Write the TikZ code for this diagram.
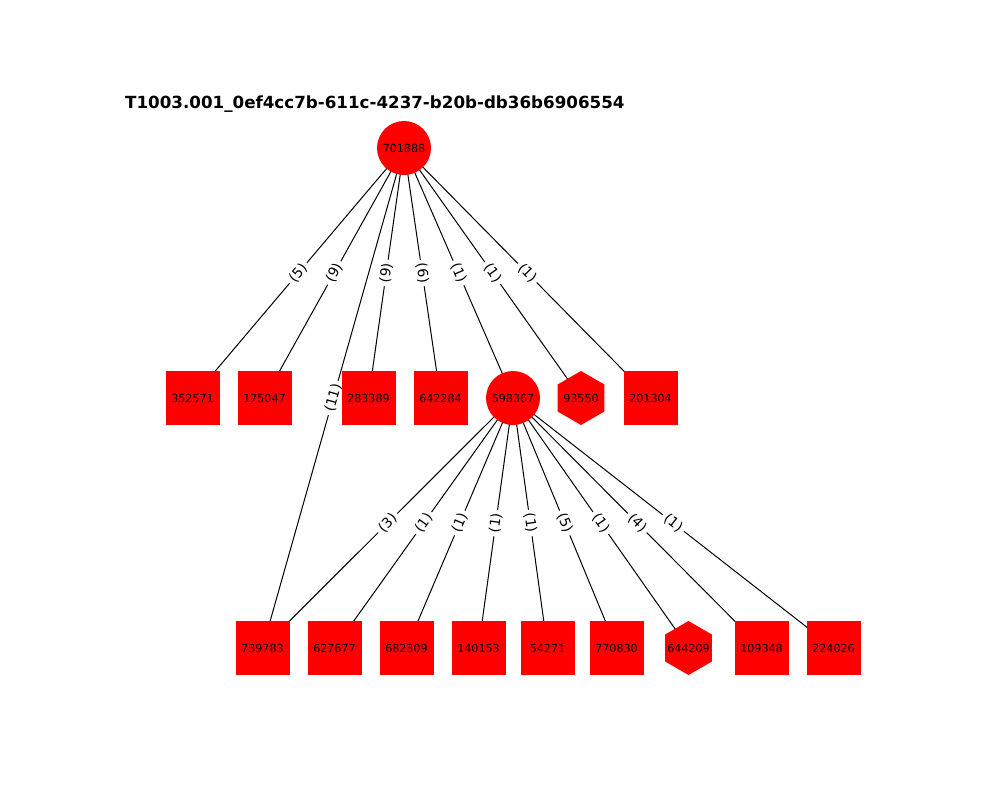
\documentclass[tikz,border=0pt]{standalone}
\usepackage{fontspec}
\setmainfont{DejaVu Sans}
\usetikzlibrary{shapes.geometric}
\pgfdeclarelayer{edges}
\pgfsetlayers{edges,main}

\begin{document}
\begin{tikzpicture}[x=1pt,y=-1pt,
  nodefont/.style={font=\fontsize{11.1}{13}\selectfont},
  sq/.style={rectangle,fill=red,minimum size=54,inner sep=0,nodefont},
  rd/.style={circle,fill=red,minimum size=54,inner sep=0,nodefont},
  hx/.style={regular polygon,regular polygon sides=6,shape border rotate=30,
             fill=red,minimum size=54,inner sep=0,
             label={[nodefont,inner sep=0]center:#1}},
  link/.style={draw=black,line width=1pt},
  elab/.style={sloped,fill=white,inner sep=3.5pt,rounded corners=3pt,
               font=\fontsize{13.9}{16}\selectfont}]
\useasboundingbox (0,0) rectangle (1000,800);

% title
\node[anchor=base west,inner sep=0,font=\bfseries\fontsize{16.7}{20}\selectfont]
  (title) at (125,108) {T1003.001\_0ef4cc7b-611c-4237-b20b-db36b6906554};

% root
\node[rd] (n701888) at (404,148) {701888};

% second row
\node[sq] (n352571) at (192.5,398) {352571};
\node[sq] (n175047) at (264.5,398) {175047};
\node[sq] (n283389) at (368.5,398) {283389};
\node[sq] (n642284) at (440.5,398) {642284};
\node[rd] (n598367) at (513,398) {598367};
\node[hx=93550] (n93550) at (581,398) {};
\node[sq] (n201304) at (650.5,398) {201304};

% third row
\node[sq] (n739783) at (262.5,648) {739783};
\node[sq] (n627677) at (334.5,648) {627677};
\node[sq] (n682309) at (406.5,648) {682309};
\node[sq] (n140153) at (478.5,648) {140153};
\node[sq] (n54271)  at (547.5,648) {54271};
\node[sq] (n770830) at (616.5,648) {770830};
\node[hx=644209] (n644209) at (688.5,648) {};
\node[sq] (n109348) at (761.5,648) {109348};
\node[sq] (n224026) at (833.5,648) {224026};

% connectors (centre to centre) and their weights, behind the nodes
\begin{pgfonlayer}{edges}
\foreach \a/\b in {n701888/n352571,n701888/n175047,n701888/n739783,
                   n701888/n283389,n701888/n642284,n701888/n598367,
                   n701888/n93550,n701888/n201304,
                   n598367/n739783,n598367/n627677,n598367/n682309,
                   n598367/n140153,n598367/n54271,n598367/n770830,
                   n598367/n644209,n598367/n109348,n598367/n224026}
  \draw[link] (\a.center) -- (\b.center);
\foreach \a/\b/\w in {n701888/n352571/5,n701888/n175047/9,n701888/n739783/11,
                      n701888/n283389/9,n701888/n642284/6,n701888/n598367/1,
                      n701888/n93550/1,n701888/n201304/1,
                      n598367/n739783/3,n598367/n627677/1,n598367/n682309/1,
                      n598367/n140153/1,n598367/n54271/1,n598367/n770830/5,
                      n598367/n644209/1,n598367/n109348/4,n598367/n224026/1}
  \path (\a.center) -- node[elab] {(\w)} (\b.center);
\end{pgfonlayer}
\end{tikzpicture}
\end{document}
